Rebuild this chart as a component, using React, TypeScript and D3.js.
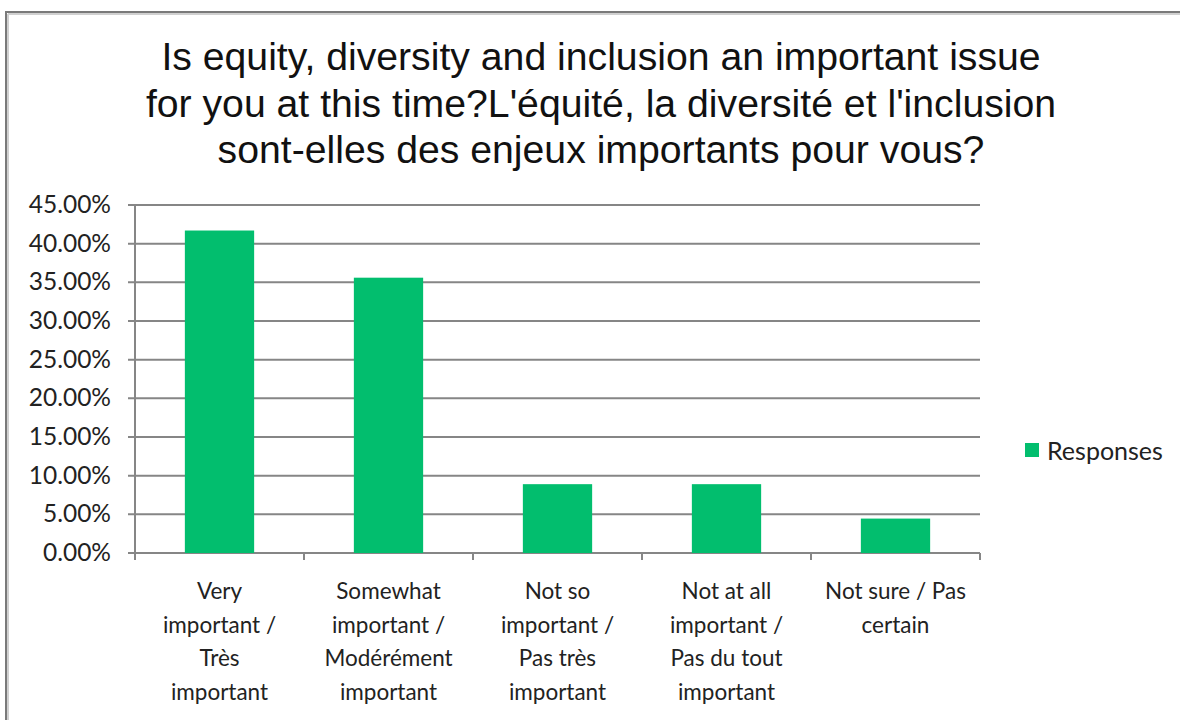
import React from "react";
import * as d3 from "d3";

const titleLines = [
  "Is equity, diversity and inclusion an important issue",
  "for you at this time?L'équité, la diversité et l'inclusion",
  "sont-elles des enjeux importants pour vous?",
];
const categories = [
  ["Very", "important /", "Très", "important"],
  ["Somewhat", "important /", "Modérément", "important"],
  ["Not so", "important /", "Pas très", "important"],
  ["Not at all", "important /", "Pas du tout", "important"],
  ["Not sure / Pas", "certain"],
];
const responses = [41.7, 35.6, 8.9, 8.9, 4.45];
const yTicks = [0, 5, 10, 15, 20, 25, 30, 35, 40, 45];
const seriesName = "Responses";

export default function App() {
  const W = 1180;
  const H = 720;
  const left = 135;
  const right = 980;
  const top = 205;
  const bottom = 553;
  const x = d3
    .scaleBand<number>()
    .domain(categories.map((_, i) => i))
    .range([left, right])
    .paddingInner(0.59)
    .paddingOuter(0.295);
  const y = d3.scaleLinear().domain([0, 45]).range([bottom, top]);
  const green = "#02BE6E";
  const grid = "#868686";
  const font = "Lato, 'Open Sans', sans-serif";
  const step = (right - left) / categories.length;

  return (
    <svg
      width={W}
      height={H}
      style={{ position: "absolute", left: 0, top: 0, display: "block", background: "#fff" }}
    >
      {/* frame */}
      <line x1={8} x2={8} y1={14} y2={H} stroke="#d0d0d0" strokeWidth={2} />
      <line x1={8} x2={W} y1={14} y2={14} stroke="#d0d0d0" strokeWidth={2} />
      <line x1={6} x2={6} y1={12} y2={H} stroke="#7a7a7a" strokeWidth={2} />
      <line x1={5} x2={W} y1={12} y2={12} stroke="#7a7a7a" strokeWidth={2} />

      {/* title */}
      {titleLines.map((t, i) => (
        <text
          key={i}
          x={601}
          y={70 + i * 46.5}
          textAnchor="middle"
          fontFamily="'Liberation Sans', Arial, sans-serif"
          fontSize={39.2}
          fill="#111"
        >
          {t}
        </text>
      ))}

      {/* gridlines */}
      {yTicks.map((t) => (
        <line key={t} x1={left - 7} x2={right} y1={y(t)} y2={y(t)} stroke={grid} strokeWidth={2} />
      ))}
      {/* y axis */}
      <line x1={left} x2={left} y1={top} y2={bottom + 7} stroke={grid} strokeWidth={2} />
      {/* x ticks */}
      {d3.range(categories.length + 1).map((i) => (
        <line
          key={i}
          x1={left + i * step}
          x2={left + i * step}
          y1={bottom}
          y2={bottom + 7}
          stroke={grid}
          strokeWidth={2}
        />
      ))}
      {/* y labels */}
      {yTicks.map((t) => (
        <text key={t} x={111} y={y(t) + 8} textAnchor="end" fontFamily={font} fontSize={24.5} fill="#222">
          {d3.format(".2f")(t) + "%"}
        </text>
      ))}

      {/* bars */}
      {responses.map((v, i) => (
        <rect key={i} x={x(i)} y={y(v)} width={x.bandwidth()} height={y(0) - y(v)} fill={green} />
      ))}

      {/* category labels */}
      {categories.map((lines, i) => (
        <text key={i} textAnchor="middle" fontFamily={font} fontSize={22.5} fill="#222">
          {lines.map((l, j) => (
            <tspan key={j} x={(x(i) as number) + x.bandwidth() / 2} y={599 + j * 33.5}>
              {l}
            </tspan>
          ))}
        </text>
      ))}

      {/* legend */}
      <rect x={1025} y={443} width={14} height={14} fill={green} />
      <text x={1047} y={460} fontFamily={font} fontSize={25} fill="#222">
        {seriesName}
      </text>
    </svg>
  );
}
